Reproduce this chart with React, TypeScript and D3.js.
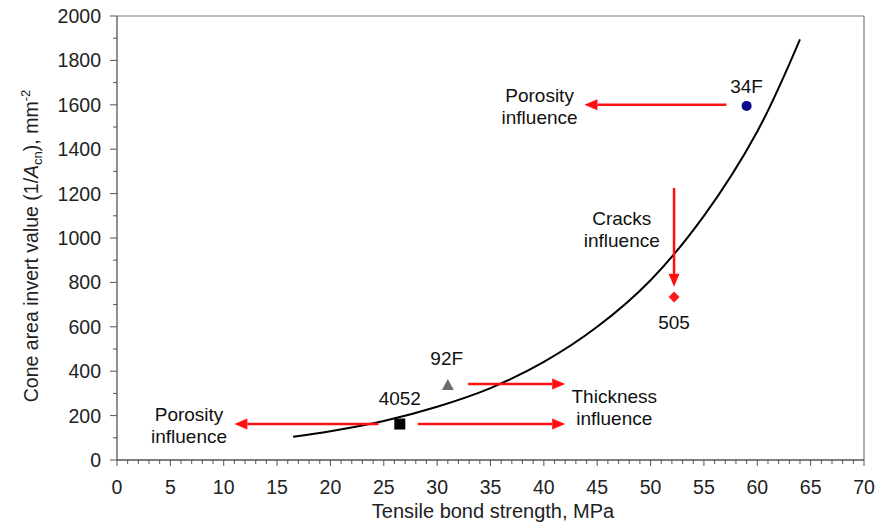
import React from "react";
import * as d3 from "d3";

const curveX = [16.5, 20, 25, 30, 35, 40, 45, 50, 55, 60, 64];
const curveY = [105, 130, 176, 240, 324, 442, 600, 810, 1100, 1480, 1895];

const samples = [
  { name: "34F", x: 59.0, y: 1595, shape: "circle", color: "#0a0a8c", lx: 59.0, ly: 1652 },
  { name: "505", x: 52.2, y: 734, shape: "diamond", color: "#ff1a1a", lx: 52.2, ly: 590 },
  { name: "92F", x: 31.0, y: 338, shape: "triangle", color: "#6e6e6e", lx: 30.9, ly: 428 },
  { name: "4052", x: 26.5, y: 162, shape: "square", color: "#000000", lx: 26.5, ly: 248 },
];

const arrows = [
  { x1: 57.1, y1: 1600, x2: 43.8, y2: 1600 },
  { x1: 52.2, y1: 1225, x2: 52.2, y2: 780 },
  { x1: 32.9, y1: 342, x2: 42.0, y2: 342 },
  { x1: 28.2, y1: 162, x2: 42.0, y2: 162 },
  { x1: 24.5, y1: 162, x2: 11.0, y2: 162 },
];

const notes = [
  { lines: ["Porosity", "influence"], x: 39.6, y: 1612 },
  { lines: ["Cracks", "influence"], x: 47.3, y: 1058 },
  { lines: ["Thickness", "influence"], x: 46.6, y: 257 },
  { lines: ["Porosity", "influence"], x: 6.75, y: 176 },
];

const xTicks = d3.range(0, 71, 5);
const yTicks = d3.range(0, 2001, 200);

export default function App() {
  const W = 875, H = 524;
  const L = 117, R = 864, T = 16, B = 460;
  const x = d3.scaleLinear().domain([0, 70]).range([L, R]);
  const y = d3.scaleLinear().domain([0, 2000]).range([B, T]);
  const line = d3.line<number>()
    .x((_, i) => x(curveX[i]))
    .y((d) => y(d))
    .curve(d3.curveCatmullRom.alpha(0.5));
  const font = "'Liberation Sans', Arial, sans-serif";
  const red = "#ff1010";

  const marker = (s: typeof samples[0]) => {
    const cx = x(s.x), cy = y(s.y);
    if (s.shape === "circle") return <circle cx={cx} cy={cy} r={5} fill={s.color} />;
    if (s.shape === "square") return <rect x={cx - 5.5} y={cy - 5.5} width={11} height={11} fill={s.color} />;
    if (s.shape === "diamond") return <path d={`M${cx},${cy - 5.5}L${cx + 5.5},${cy}L${cx},${cy + 5.5}L${cx - 5.5},${cy}Z`} fill={s.color} />;
    return <path d={`M${cx},${cy - 6}L${cx + 6},${cy + 5}L${cx - 6},${cy + 5}Z`} fill={s.color} />;
  };

  const arrow = (a: typeof arrows[0], i: number) => {
    const x1 = x(a.x1), y1 = y(a.y1), x2 = x(a.x2), y2 = y(a.y2);
    const ang = Math.atan2(y2 - y1, x2 - x1);
    const len = 13, hw = 5.5;
    const bx = x2 - len * Math.cos(ang), by = y2 - len * Math.sin(ang);
    const px = -Math.sin(ang) * hw, py = Math.cos(ang) * hw;
    return (
      <g key={i}>
        <line x1={x1} y1={y1} x2={bx} y2={by} stroke={red} strokeWidth={2.5} />
        <path d={`M${x2},${y2}L${bx + px},${by + py}L${bx - px},${by - py}Z`} fill={red} />
      </g>
    );
  };

  return (
    <svg width={W} height={H} style={{ position: "absolute", left: 0, top: 0 }} fontFamily={font}>
      <rect width={W} height={H} fill="#fff" />
      {/* frame */}
      <line x1={L} y1={T} x2={R} y2={T} stroke="#7a7a7a" strokeWidth={1.2} />
      <line x1={R} y1={T} x2={R} y2={B} stroke="#7a7a7a" strokeWidth={1.2} />
      <line x1={L} y1={T} x2={L} y2={B} stroke="#555" strokeWidth={1.3} />
      <line x1={L} y1={B} x2={R} y2={B} stroke="#555" strokeWidth={1.3} />
      {/* x ticks */}
      {d3.range(0, 71, 1).map((v) => (
        <line key={"xt" + v} x1={x(v)} x2={x(v)} y1={B} y2={B + (v % 5 === 0 ? 6 : 4)} stroke="#555" strokeWidth={1} />
      ))}
      {xTicks.map((v) => (
        <text key={"xl" + v} x={x(v)} y={494} textAnchor="middle" fontSize={19.5} fill="#222">{v}</text>
      ))}
      {/* y ticks */}
      {d3.range(0, 2001, 100).map((v) => (
        <line key={"yt" + v} x1={L} x2={L - (v % 200 === 0 ? 7 : 4)} y1={y(v)} y2={y(v)} stroke="#555" strokeWidth={1} />
      ))}
      {yTicks.map((v) => (
        <text key={"yl" + v} x={101} y={y(v) + 7} textAnchor="end" fontSize={19.5} fill="#222">{v}</text>
      ))}
      {/* axis titles */}
      <text x={493} y={518} textAnchor="middle" fontSize={20} fill="#222">Tensile bond strength, MPa</text>
      <text transform={`translate(38,${246}) rotate(-90)`} textAnchor="middle" fontSize={19.5} fill="#222">
        Cone area invert value (1/<tspan fontStyle="italic">A</tspan><tspan fontSize={13} dy={4}>cn</tspan><tspan dy={-4}>), mm</tspan><tspan fontSize={13} dy={-8}>-2</tspan>
      </text>
      {/* curve */}
      <path d={line(curveY) || ""} fill="none" stroke="#000" strokeWidth={2} />
      {/* arrows */}
      {arrows.map(arrow)}
      {/* markers */}
      {samples.map((s) => (
        <g key={s.name}>
          {marker(s)}
          <text x={x(s.lx)} y={y(s.ly)} textAnchor="middle" fontSize={19} fill="#111">{s.name}</text>
        </g>
      ))}
      {/* notes */}
      {notes.map((n, i) => (
        <text key={"n" + i} textAnchor="middle" fontSize={19} fill="#111">
          {n.lines.map((t, j) => (
            <tspan key={j} x={x(n.x)} y={y(n.y) + j * 22}>{t}</tspan>
          ))}
        </text>
      ))}
    </svg>
  );
}
